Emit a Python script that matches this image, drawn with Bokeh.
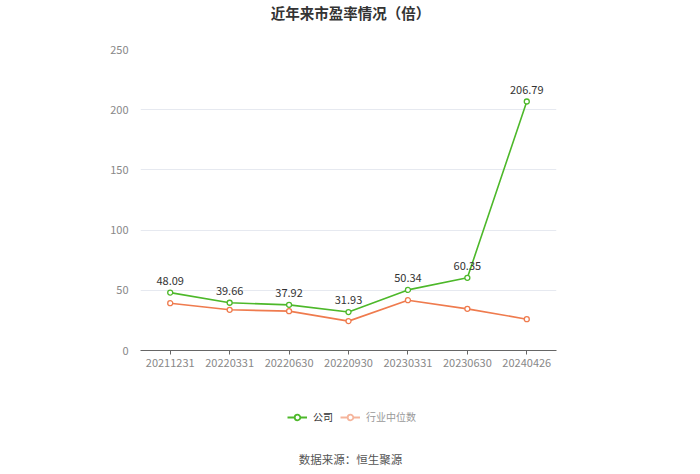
from bokeh.plotting import figure
from bokeh.layouts import column
from bokeh.models import Legend, LegendItem, Label, ColumnDataSource, FixedTicker, Range1d
from bokeh.embed import file_html
from bokeh.resources import INLINE

categories = ["20211231", "20220331", "20220630", "20220930", "20230331", "20230630", "20240426"]
company = [48.09, 39.66, 37.92, 31.93, 50.34, 60.35, 206.79]
industry = [39.3, 33.8, 32.7, 24.4, 41.8, 34.6, 26.0]
y_ticks = [0, 50, 100, 150, 200, 250]

FONT = "Noto Sans CJK SC"
GREEN = "#4db82a"
ORANGE = "#ef7b4e"
BL, BR = 140, 144


def strip(h):
    f = figure(width=700, height=h, x_range=Range1d(0, 1), y_range=Range1d(0, 1),
               output_backend="svg", toolbar_location=None,
               min_border_left=BL, min_border_right=BR, min_border_top=0, min_border_bottom=0,
               x_axis_type=None, y_axis_type=None)
    f.outline_line_color = None
    f.grid.grid_line_color = None
    f.background_fill_color = "white"
    f.border_fill_color = "white"
    return f


# Top strip: title
t = strip(41)
t.add_layout(Label(x=350 - BL, y=41 - 12, x_units="screen", y_units="screen",
                   text="近年来市盈率情况（倍）", text_align="center", text_baseline="middle",
                   text_font=FONT, text_font_size="14.5px", text_font_style="bold",
                   text_color="#333333"))

# Main chart
p = figure(width=700, height=354, x_range=categories, y_range=Range1d(0, 250),
           output_backend="svg", toolbar_location=None,
           min_border_left=BL, min_border_right=BR, min_border_top=8, min_border_bottom=45)
p.outline_line_color = None
p.background_fill_color = "white"
p.border_fill_color = "white"

p.xgrid.grid_line_color = None
p.ygrid.grid_line_color = "#e6e9f0"
p.ygrid.grid_line_width = 1
p.yaxis.ticker = FixedTicker(ticks=y_ticks)
p.yaxis.axis_line_color = None
p.yaxis.major_tick_line_color = None
p.yaxis.minor_tick_line_color = None
p.yaxis.major_label_text_color = "#888888"
p.yaxis.major_label_text_font = FONT
p.yaxis.major_label_text_font_size = "11px"
p.yaxis.major_label_standoff = 6

p.xaxis.axis_line_color = "#666666"
p.xaxis.major_tick_line_color = "#666666"
p.xaxis.major_tick_in = 0
p.xaxis.major_tick_out = 4
p.xaxis.minor_tick_line_color = None
p.xaxis.major_label_text_color = "#888888"
p.xaxis.major_label_text_font = FONT
p.xaxis.major_label_text_font_size = "11px"
p.xaxis.major_label_standoff = 4

src = ColumnDataSource(dict(x=categories, c=company, i=industry,
                            lab=["%.2f" % v for v in company]))

p.line("x", "i", source=src, line_color=ORANGE, line_width=1.6)
p.scatter("x", "i", source=src, size=5, fill_color="white", line_color=ORANGE, line_width=1.3)
p.line("x", "c", source=src, line_color=GREEN, line_width=1.6)
p.scatter("x", "c", source=src, size=5, fill_color="white", line_color=GREEN, line_width=1.3)
p.text("x", "c", text="lab", source=src, text_align="center", text_baseline="bottom",
       y_offset=-8, text_font_size="11px", text_color="#333333",
       text_font={"value": FONT})

# Bottom strip: legend and source
q = strip(79)
nan = [float("nan")]
lg1 = q.line(nan, nan, line_color=GREEN, line_width=2)
sg1 = q.scatter(nan, nan, size=8, fill_color="white", line_color=GREEN, line_width=1.8)
lg2 = q.line(nan, nan, line_color="#f5b49b", line_width=2)
sg2 = q.scatter(nan, nan, size=8, fill_color="white", line_color="#f5b49b", line_width=1.8)

common = dict(orientation="horizontal", label_text_font=FONT, label_text_font_size="10px",
              background_fill_alpha=0, border_line_color=None, glyph_width=20,
              glyph_height=14, label_height=14, padding=0, margin=0, label_standoff=6)
leg1 = Legend(items=[LegendItem(label="公司", renderers=[lg1, sg1])],
              location=(287 - BL, 50), label_text_color="#333333", **common)
leg2 = Legend(items=[LegendItem(label="行业中位数", renderers=[lg2, sg2])],
              location=(340 - BL, 50), label_text_color="#999999", **common)
q.add_layout(leg1, "center")
q.add_layout(leg2, "center")

q.add_layout(Label(x=350 - BL, y=16, x_units="screen", y_units="screen", text="数据来源：恒生聚源",
                   text_align="center", text_baseline="middle", text_font=FONT,
                   text_font_size="11.5px", text_color="#555555"))

layout = column(t, p, q, spacing=0)
open("out.html", "w").write(file_html(layout, INLINE))
